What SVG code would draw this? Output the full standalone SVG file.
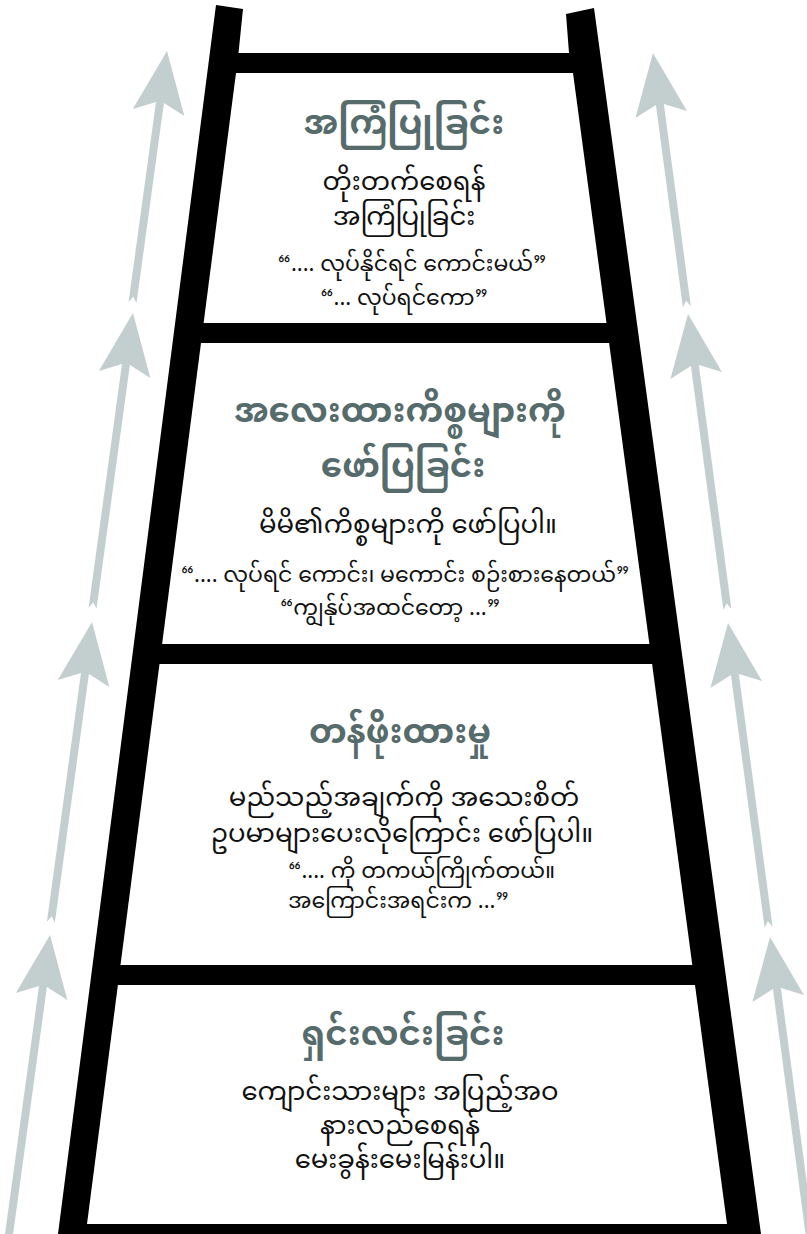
<svg xmlns="http://www.w3.org/2000/svg" width="807" height="1234" viewBox="0 0 807 1234">
<style>
text{font-family:'Noto Sans Myanmar','Noto Sans Myanmar UI',Padauk,'Myanmar Text',Pyidaungsu,'Noto Sans',sans-serif;text-anchor:middle}
.t{font-size:34px;fill:#566b6b;font-weight:bold}
.b{font-size:26px;fill:#111}
.q{font-size:22px;fill:#111}
.ql{text-anchor:start}
.arr{fill:#c3cfcf}
.panel{fill:#fff}
</style>
<rect width="807" height="1234" fill="#fff"/>
<g id="connectors">
<path class="arr" transform="translate(50,935) rotate(7.8)" d="M0,0 L26,62 L4,52 L4,320 L-4,320 L-4,52 L-26,62 Z"/>
<path class="arr" transform="translate(92,622) rotate(7.8)" d="M0,0 L26,62 L4,52 L4,303 L0,297 L-4,303 L-4,52 L-26,62 Z"/>
<path class="arr" transform="translate(133,313) rotate(7.8)" d="M0,0 L26,62 L4,52 L4,298 L0,292 L-4,298 L-4,52 L-26,62 Z"/>
<path class="arr" transform="translate(167,51) rotate(7.8)" d="M0,0 L26,62 L4,52 L4,254 L0,248 L-4,254 L-4,52 L-26,62 Z"/>
<path class="arr" transform="translate(653,53) rotate(-7.6)" d="M0,0 L26,62 L4,52 L4,256 L0,250 L-4,256 L-4,52 L-26,62 Z"/>
<path class="arr" transform="translate(688,314) rotate(-7.6)" d="M0,0 L26,62 L4,52 L4,298 L0,292 L-4,298 L-4,52 L-26,62 Z"/>
<path class="arr" transform="translate(728,623) rotate(-7.6)" d="M0,0 L26,62 L4,52 L4,307 L0,301 L-4,307 L-4,52 L-26,62 Z"/>
<path class="arr" transform="translate(770,937) rotate(-7.6)" d="M0,0 L26,62 L4,52 L4,320 L-4,320 L-4,52 L-26,62 Z"/>
</g>
<g id="ladder">
<polygon fill="#000" points="216,5 243,9 238.5,53 569,53 566,14 594,8 761,1234 58,1234"/>
</g>
<g id="step4">
<polygon class="panel" points="236,73 573,73 606.5,323 203.6,323"/>
<text class="t" x="404" y="134">အကြံပြုခြင်း</text>
<text class="b" x="404" y="190">တိုးတက်စေရန်</text>
<text class="b" x="404" y="225">အကြံပြုခြင်း</text>
<text class="q" x="412" y="271">“.... လုပ်နိုင်ရင် ကောင်းမယ်”</text>
<text class="q" x="404" y="305">“... လုပ်ရင်ကော”</text>
</g>
<g id="step3">
<polygon class="panel" points="201,343 609.1,343 649.4,644 162.1,644"/>
<text class="t" x="400" y="422">အလေးထားကိစ္စများကို</text>
<text class="t" x="403" y="477">ဖော်ပြခြင်း</text>
<text class="b" x="408" y="533">မိမိ၏ကိစ္စများကို ဖော်ပြပါ။</text>
<text class="q" x="405" y="582">“.... လုပ်ရင် ကောင်း၊ မကောင်း စဉ်းစားနေတယ်”</text>
<text class="q" x="390" y="615">“ကျွန်ုပ်အထင်တော့ ...”</text>
</g>
<g id="step2">
<polygon class="panel" points="159.5,664 652.1,664 692.3,965 120.5,965"/>
<text class="t" x="400" y="743">တန်ဖိုးထားမှု</text>
<text class="b" x="404" y="806">မည်သည့်အချက်ကို အသေးစိတ်</text>
<text class="b" x="402" y="842">ဥပမာများပေးလိုကြောင်း ဖော်ပြပါ။</text>
<text class="q ql" x="288" y="878">“.... ကို တကယ်ကြိုက်တယ်။</text>
<text class="q ql" x="288" y="908">အကြောင်းအရင်းက ...”</text>
</g>
<g id="step1">
<polygon class="panel" points="117.9,985 695,985 727,1224 87,1224"/>
<text class="t" x="403" y="1045">ရှင်းလင်းခြင်း</text>
<text class="b" x="400" y="1100">ကျောင်းသားများ အပြည့်အဝ</text>
<text class="b" x="400" y="1134">နားလည်စေရန်</text>
<text class="b" x="400" y="1168">မေးခွန်းမေးမြန်းပါ။</text>
</g>
</svg>
